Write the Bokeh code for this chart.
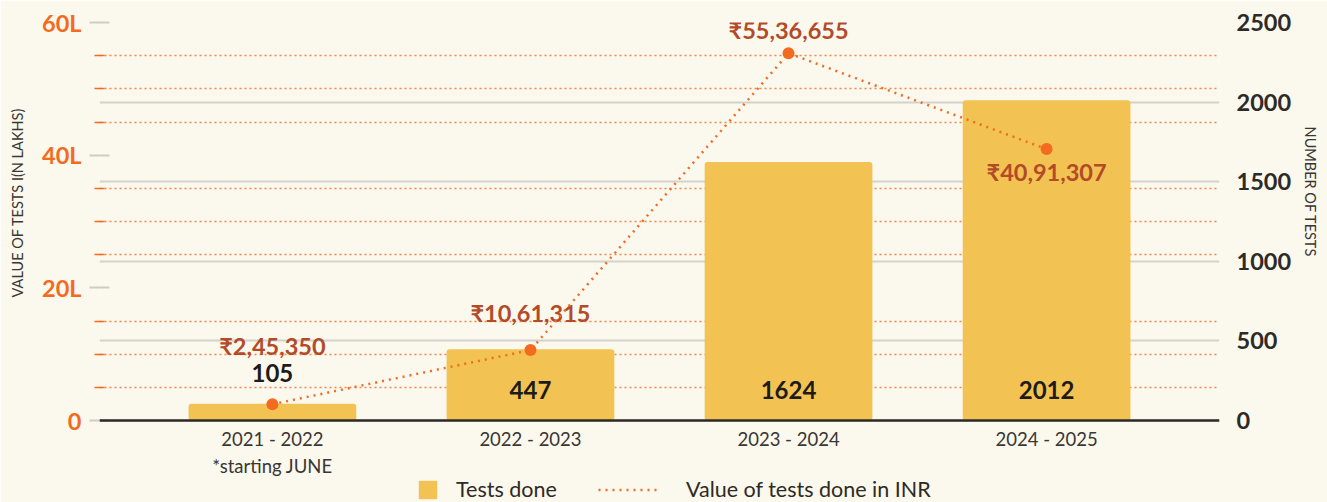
from bokeh.plotting import figure
from bokeh.models import (Range1d, FactorRange, LinearAxis, FixedTicker, Grid, Span,
                          Legend, LegendItem, ColumnDataSource)
from bokeh.core.properties import value
from bokeh.embed import file_html
from bokeh.resources import INLINE

# ---------------- data ----------------
years = ["2021 - 2022", "2022 - 2023", "2023 - 2024", "2024 - 2025"]
year_notes = ["*starting JUNE", "", "", ""]
tests_done = [105, 447, 1624, 2012]
test_value_inr = [245350, 1061315, 5536655, 4091307]
left_tick_labels = {0: "0", 20: "20L", 40: "40L", 60: "60L"}
right_max = 2500
right_step = 500
left_max_lakhs = 60
left_step = 20
left_minor_step = 5

# ---------------- style / layout ----------------
BG = "#FBF8EE"
BAR = "#F2C352"
ORANGE = "#F26B21"
LBL_RED = "#B34A28"
DARK = "#2E2A26"
TXT = "#3A3632"
GRID = "#D5D2CB"
FONT = "Lato"
value_label_offsets = [-58, -37, -23, 23]
EM = "\u2003"
PLOT_PX = 398      # height of the value area
BOTTOM_PX = 82     # area below zero (category labels + legend)


def inr(n):
    s = str(n)
    last3, rest = s[-3:], s[:-3]
    parts = []
    while len(rest) > 2:
        parts.insert(0, rest[-2:])
        rest = rest[:-2]
    if rest:
        parts.insert(0, rest)
    return "₹" + ",".join(parts + [last3])


lakhs = [v / 1e5 for v in test_value_inr]
bar_label_y = [t if t / right_max * PLOT_PX < 40 else 0 for t in tests_done]

src = ColumnDataSource(dict(
    x=years, tests=tests_done, lakhs=lakhs,
    vlabel=[inr(v) for v in test_value_inr],
    voff=value_label_offsets,
    blabel=[str(t) for t in tests_done],
    by=bar_label_y,
    zero=[0] * len(years),
    note=year_notes,
))

left_major = list(range(0, left_max_lakhs + 1, left_step))
left_minor = [v for v in range(0, left_max_lakhs + 1, left_minor_step) if v not in left_major]
right_major = list(range(0, right_max + 1, right_step))

p = figure(
    x_range=FactorRange(factors=years, range_padding=0.085, range_padding_units="percent"),
    y_range=Range1d(-left_max_lakhs * BOTTOM_PX / PLOT_PX, left_max_lakhs),
    x_axis_location=None,
    width=1327, height=502, output_backend="svg", toolbar_location=None,
    min_border_left=99, min_border_right=108, min_border_top=22, min_border_bottom=0,
    background_fill_color=BG, border_fill_color=BG, outline_line_color=None,
)
p.extra_y_ranges = {"right": Range1d(-right_max * BOTTOM_PX / PLOT_PX, right_max)}

# left axis
la = p.yaxis[0]
la.ticker = FixedTicker(ticks=left_major, minor_ticks=left_minor)
la.major_label_overrides = left_tick_labels
la.axis_line_color = None
la.major_tick_line_color = "#CFCCC5"
la.major_tick_line_width = 2
la.major_tick_out = 10
la.major_tick_in = 10
la.minor_tick_line_color = ORANGE
la.minor_tick_line_width = 1.5
la.minor_tick_out = 5
la.minor_tick_in = 5
la.major_label_standoff = 8
la.major_label_text_font = FONT
la.major_label_text_font_size = "23.5px"
la.major_label_text_font_style = "bold"
la.major_label_text_color = ORANGE
la.axis_label = EM * 11 + "VALUE OF TESTS I(N LAKHS)"
la.axis_label_text_font = FONT
la.axis_label_text_font_size = "14.5px"
la.axis_label_text_font_style = "normal"
la.axis_label_text_color = TXT
la.axis_label_standoff = 13

# right axis
ra = LinearAxis(y_range_name="right", ticker=FixedTicker(ticks=right_major))
ra.axis_line_color = None
ra.major_tick_line_color = None
ra.minor_tick_line_color = None
ra.major_label_standoff = 11
ra.major_label_text_font = FONT
ra.major_label_text_font_size = "23.5px"
ra.major_label_text_font_style = "bold"
ra.major_label_text_color = DARK
ra.axis_label = "NUMBER OF TESTS" + EM * 13
ra.axis_label_text_font = FONT
ra.axis_label_text_font_size = "14.5px"
ra.axis_label_text_font_style = "normal"
ra.axis_label_text_color = TXT
ra.axis_label_standoff = 8
p.add_layout(ra, "right")

# grids
p.xgrid.grid_line_color = None
p.ygrid.grid_line_color = None
p.ygrid.minor_grid_line_color = ORANGE
p.ygrid.minor_grid_line_alpha = 0.8
p.ygrid.minor_grid_line_width = 1.5
p.ygrid.minor_grid_line_dash = "2 3"
rgrid = Grid(dimension=1, ticker=FixedTicker(ticks=right_major), y_range_name="right",
             grid_line_color=GRID, grid_line_width=2)
p.add_layout(rgrid)

# bars
bars = p.vbar(x="x", top="tests", width=0.65, source=src, y_range_name="right",
              fill_color=BAR, line_color=None, border_radius=3)

# value labels (line drawn over them)
p.text(x="x", y="by", text="blabel", source=src, y_range_name="right", y_offset=-31,
       text_align="center", text_baseline="middle", text_font=value(FONT),
       text_font_size="24px", text_font_style="bold", text_color="#1E1B18")
p.text(x="x", y="lakhs", text="vlabel", source=src, y_offset="voff",
       text_align="center", text_baseline="middle", text_font=value(FONT),
       text_font_size="23.5px", text_font_style="bold", text_color=LBL_RED)

line = p.line(x="x", y="lakhs", source=src, line_color=ORANGE, line_width=2.5, line_dash="2 5")
p.scatter(x="x", y="lakhs", source=src, size=12, fill_color=ORANGE, line_color=None)

# baseline (category axis line)
p.add_layout(Span(location=0, dimension="width", line_color=DARK, line_width=2.5))

# category labels
p.text(x="x", y="zero", text="x", source=src, y_offset=18,
       text_align="center", text_baseline="middle", text_font=value(FONT),
       text_font_size="18.5px", text_color=TXT)
p.text(x="x", y="zero", text="note", source=src, y_offset=45,
       text_align="center", text_baseline="middle", text_font=value(FONT),
       text_font_size="18.5px", text_color=TXT)

# legends
common = dict(orientation="horizontal", padding=0, margin=0, border_line_color=None,
              background_fill_alpha=0, label_text_font=FONT,
              label_text_font_size="21.5px", label_text_color=DARK)
leg1 = Legend(items=[LegendItem(label="Tests done", renderers=[bars])], location=(317, 0),
              glyph_width=23, glyph_height=23, label_standoff=17, **common)
leg2 = Legend(items=[LegendItem(label="Value of tests done in INR", renderers=[line])],
              location=(499, 0), glyph_width=62, glyph_height=23, label_standoff=26, **common)
p.add_layout(leg1)
p.add_layout(leg2)

open("out.html", "w").write(file_html(p, INLINE))
